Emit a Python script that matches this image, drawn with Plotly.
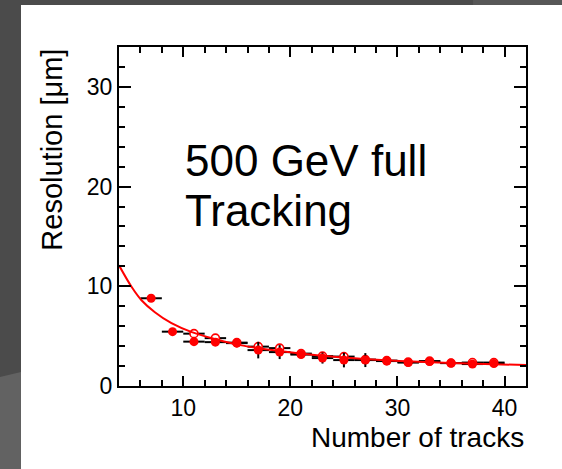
import plotly.graph_objects as go

# ---- data ----
n_filled = [7, 9, 11, 13, 15, 17, 19, 21, 23, 25, 27, 29, 31, 33, 35, 37, 39]
res_filled = [8.8, 5.45, 4.45, 4.4, 4.3, 3.6, 3.4, 3.15, 2.8, 2.6, 2.6, 2.5, 2.35, 2.45, 2.3, 2.2, 2.25]
err_filled = [0.15, 0.15, 0.15, 0.15, 0.2, 0.83, 0.7, 0.3, 0.55, 0.73, 0.7, 0.2, 0.2, 0.2, 0.2, 0.2, 0.2]

n_open = [11, 13, 15, 17, 19, 21, 23, 25, 27, 29, 31, 33, 35, 37, 39]
res_open = [5.25, 4.8, 4.35, 3.95, 3.8, 3.25, 3.0, 2.95, 2.65, 2.55, 2.4, 2.5, 2.3, 2.35, 2.35]
err_open = [0.2, 0.2, 0.2, 0.3, 0.3, 0.2, 0.3, 0.3, 0.2, 0.2, 0.2, 0.2, 0.2, 0.2, 0.2]

fit_n = [4.0, 5.2, 6.1, 7.35, 8.9, 10.8, 13.0, 15.3, 19.0, 22.7, 26.9, 30.2, 35.0, 42.0]
fit_res = [12.1, 9.9, 8.6, 7.4, 6.3, 5.4, 4.7, 4.1, 3.5, 3.05, 2.7, 2.5, 2.3, 2.1]

x_ticks = [10, 20, 30, 40]
y_ticks = [0, 10, 20, 30]

FONT = "Liberation Sans, Arial, Helvetica, sans-serif"
RED = "#ff0000"

fig = go.Figure()

fig.add_trace(go.Scatter(
    x=n_open, y=res_open, mode="markers",
    marker=dict(symbol="circle", size=8, color="white", line=dict(color=RED, width=1.6)),
    error_x=dict(type="constant", value=1, thickness=2, width=0, color="black"),
    error_y=dict(type="data", array=err_open, thickness=2, width=0, color="black"),
    showlegend=False, hoverinfo="skip"))

fig.add_trace(go.Scatter(
    x=n_filled, y=res_filled, mode="markers",
    marker=dict(symbol="circle", size=9, color=RED, line=dict(width=0)),
    error_x=dict(type="constant", value=1, thickness=2, width=0, color="black"),
    error_y=dict(type="data", array=err_filled, thickness=2, width=0, color="black"),
    showlegend=False, hoverinfo="skip"))

fig.add_trace(go.Scatter(
    x=fit_n, y=fit_res, mode="lines", line=dict(color=RED, width=2, shape="spline"),
    showlegend=False, hoverinfo="skip"))

axis_common = dict(
    showline=True, linecolor="black", linewidth=2, mirror="ticks",
    ticks="inside", tickcolor="black", tickwidth=2,
    showgrid=False, zeroline=False,
    tickfont=dict(family=FONT, size=23, color="black"),
)

fig.update_xaxes(range=[4, 42], tickvals=x_ticks, ticklen=10,
                 minor=dict(dtick=2, tick0=0, ticks="inside", ticklen=6, tickwidth=2,
                            tickcolor="black", showgrid=False),
                 **axis_common)
fig.update_yaxes(range=[0, 34], tickvals=y_ticks, ticklen=12,
                 minor=dict(dtick=2, tick0=0, ticks="inside", ticklen=6, tickwidth=2,
                            tickcolor="black", showgrid=False),
                 **axis_common)

shapes = [
    # white slide panel
    dict(type="rect", xref="paper", yref="paper", x0=-0.2408, x1=1.2, y0=-0.4, y1=1.1239,
         fillcolor="white", line=dict(width=0), layer="below"),
    # lighter grey lower-left strip
    dict(type="path", xref="paper", yref="paper",
         path="M -0.2924,0.0265 L -0.2408,0.0413 L -0.2408,-0.3 L -0.2924,-0.3 Z",
         fillcolor="#626262", line=dict(width=0), layer="below"),
    # lighter grey top-right strip
    dict(type="rect", xref="paper", yref="paper", x0=0.8698, x1=1.2, y0=1.1239, y1=1.2,
         fillcolor="#575757", line=dict(width=0), layer="below"),
]

annotations = [
    dict(text="500 GeV full", x=10, y=22.62, xref="x", yref="y", xanchor="left",
         yanchor="middle", showarrow=False, font=dict(family=FONT, size=44, color="black")),
    dict(text="Tracking", x=10, y=17.62, xref="x", yref="y", xanchor="left",
         yanchor="middle", showarrow=False, font=dict(family=FONT, size=44, color="black")),
    dict(text="Number of tracks", x=1.0, y=-0.1522, xref="paper", yref="paper",
         xanchor="right", yanchor="middle", showarrow=False,
         font=dict(family=FONT, size=28, color="black")),
    dict(text="Resolution [μm]", x=-0.1654, y=1.0, xref="paper", yref="paper",
         xanchor="center", yanchor="top", textangle=-90, showarrow=False,
         font=dict(family=FONT, size=29, color="black")),
]

fig.update_layout(
    width=562, height=469,
    margin=dict(l=119, r=36, t=47, b=83, pad=0),
    paper_bgcolor="#4b4b4b", plot_bgcolor="white",
    shapes=shapes, annotations=annotations,
    font=dict(family=FONT, color="black"),
)

fig.write_html("out.html")
